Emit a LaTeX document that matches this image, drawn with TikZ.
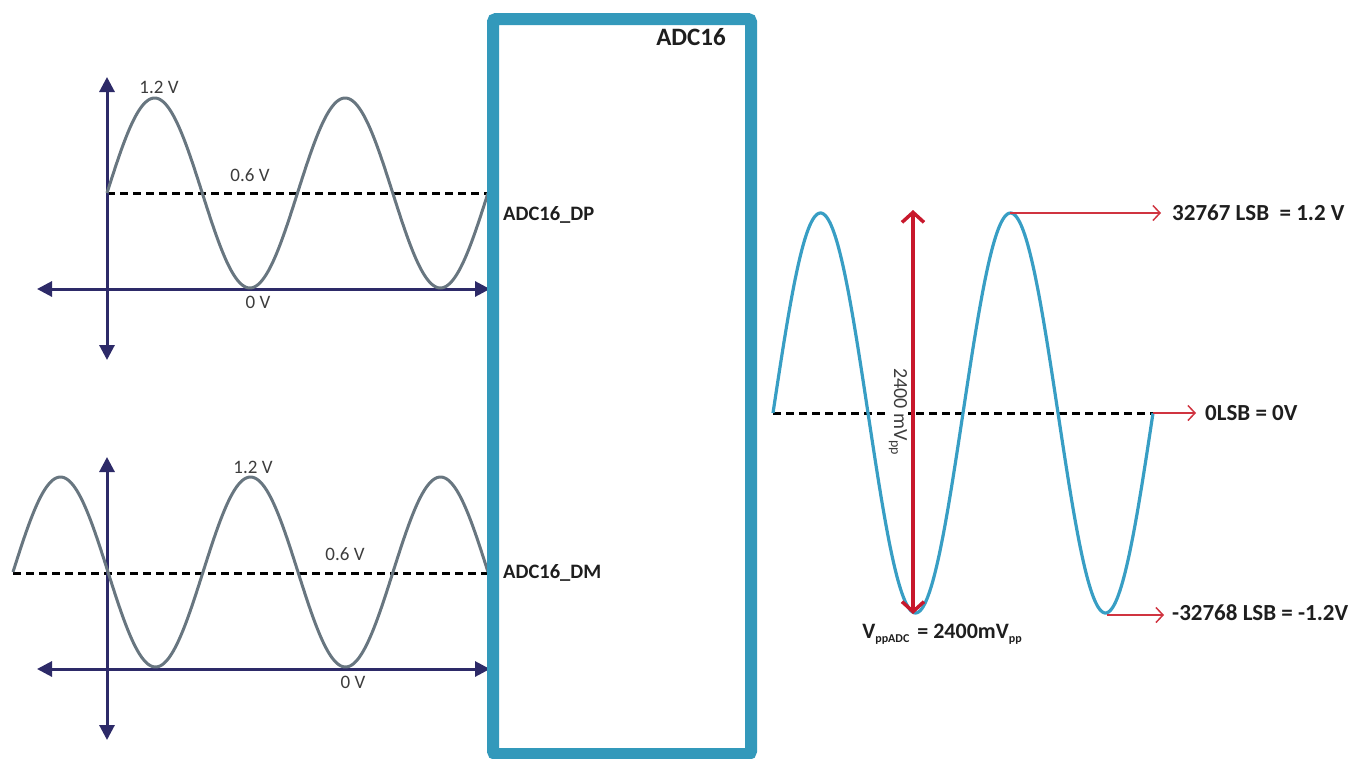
\documentclass[tikz,border=0pt]{standalone}
\usepackage{fontspec}
\setmainfont{Carlito}
\usetikzlibrary{arrows.meta}
\definecolor{boxblue}{RGB}{51,153,187}
\definecolor{sineblue}{RGB}{56,158,196}
\definecolor{sinegray}{RGB}{104,118,128}
\definecolor{navy}{RGB}{45,42,104}
\definecolor{redA}{RGB}{200,24,44}
\definecolor{redB}{RGB}{208,52,64}
\definecolor{txt}{RGB}{30,30,30}
\definecolor{txtgray}{RGB}{60,60,60}
\begin{document}
\begin{tikzpicture}[x=1pt,y=-1pt,
  axis/.style={draw=navy, line width=3pt, {Triangle[length=15pt,width=15pt]}-{Triangle[length=15pt,width=15pt]}},
  dashline/.style={draw=black, line width=3pt, dash pattern=on 8pt off 5pt},
  graysine/.style={draw=sinegray, line width=3pt},
  bluesine/.style={draw=sineblue, line width=3.2pt},
  smalllbl/.style={inner sep=0pt, text=txtgray, font=\fontsize{19}{22}\selectfont},
  pinlbl/.style={inner sep=0pt, text=txt, font=\bfseries\fontsize{20.5}{24}\selectfont, anchor=west},
  lsblbl/.style={inner sep=0pt, text=txt, font=\bfseries\fontsize{23}{26}\selectfont, anchor=west},
  thinred/.style={draw=redB, line width=1.5pt, -{Straight Barb[length=7pt,width=15pt]}},
  thickred/.style={draw=redA, line width=3.5pt, {Straight Barb[length=10pt,width=22pt]}-{Straight Barb[length=10pt,width=22pt]}}
]
\useasboundingbox (0,0) rectangle (1357,758);

% ---------- top input (ADC16_DP) ----------
\coordinate (t0) at (107,193);
\coordinate (tend) at (488,193);
\coordinate (tyt) at (107,77);
\coordinate (tyb) at (107,360);
\coordinate (txl) at (37,289);
\coordinate (txr) at (490,289);
\draw[dashline] (t0) -- (tend);
\draw[axis] (tyb) -- (tyt);
\draw[axis] (txl) -- (txr);
\draw[graysine] plot[domain=107:488, samples=240, smooth] (\x, {193 - 95*sin((\x-107)/190.5*360)});
\node[smalllbl] (t12) at (159,87) {1.2 V};
\node[smalllbl] (t06) at (250,175) {0.6 V};
\node[smalllbl] (t00) at (258,302) {0 V};

% ---------- bottom input (ADC16_DM) ----------
\coordinate (b0) at (13,573);
\coordinate (bend) at (488,573);
\coordinate (byt) at (107,457);
\coordinate (byb) at (107,740);
\coordinate (bxl) at (37,669);
\coordinate (bxr) at (490,669);
\draw[dashline] (b0) -- (bend);
\draw[axis] (byb) -- (byt);
\draw[axis] (bxl) -- (bxr);
\draw[graysine] plot[domain=13:488, samples=300, smooth] (\x, {572 - 95*sin((\x-13)/190*360)});
\node[smalllbl] (b12) at (253,467) {1.2 V};
\node[smalllbl] (b06) at (345,554) {0.6 V};
\node[smalllbl] (b00) at (353,682) {0 V};

% ---------- ADC16 block ----------
\draw[draw=boxblue, line width=12pt, rounded corners=3pt] (493,19) rectangle (751,754);
\node[inner sep=0pt, text=txt, font=\bfseries\fontsize{25}{28}\selectfont] (adc) at (691,37) {ADC16};
\node[pinlbl] (dp) at (503,215) {ADC16\_DP};
\node[pinlbl] (dm) at (503,573) {ADC16\_DM};

% ---------- output waveform ----------
\coordinate (r0) at (773,413);
\coordinate (rend) at (1153,413);
\coordinate (pk2) at (1010,213);
\coordinate (tr2) at (1107,614);
\coordinate (vt) at (913,210);
\coordinate (vb) at (913,614);
\draw[dashline] (r0) -- (rend);
\draw[bluesine] plot[domain=773:1153, samples=300, smooth] (\x, {413 - 200*sin((\x-773)/190*360)});
\node[inner sep=1pt, fill=white, rotate=-90, text=txtgray, font=\fontsize{20}{22}\selectfont] (vpp) at (898,412) {2400 mV\textsubscript{pp}};
\draw[thickred] (vb) -- (vt);

\node[lsblbl] (lmax) at (1172,213) {32767 LSB\ \ = 1.2 V};
\node[lsblbl] (lzero) at (1205,413) {0LSB = 0V};
\node[lsblbl] (lmin) at (1172,613) {-32768 LSB = -1.2V};
\coordinate (amax) at (1161,213);
\coordinate (azero) at (1196,413);
\coordinate (amin) at (1164,615);
\draw[thinred] (pk2) -- (amax);
\draw[thinred] (rend) -- (azero);
\draw[thinred] (tr2 |- amin) -- (amin);

\node[inner sep=0pt, text=txt, font=\bfseries\fontsize{22}{24}\selectfont] (vppadc) at (942,634)
  {V\raisebox{-0.35ex}{\fontsize{12}{12}\selectfont ppADC}\hspace{8pt}= 2400mV\raisebox{-0.35ex}{\fontsize{12}{12}\selectfont pp}};
\end{tikzpicture}
\end{document}
